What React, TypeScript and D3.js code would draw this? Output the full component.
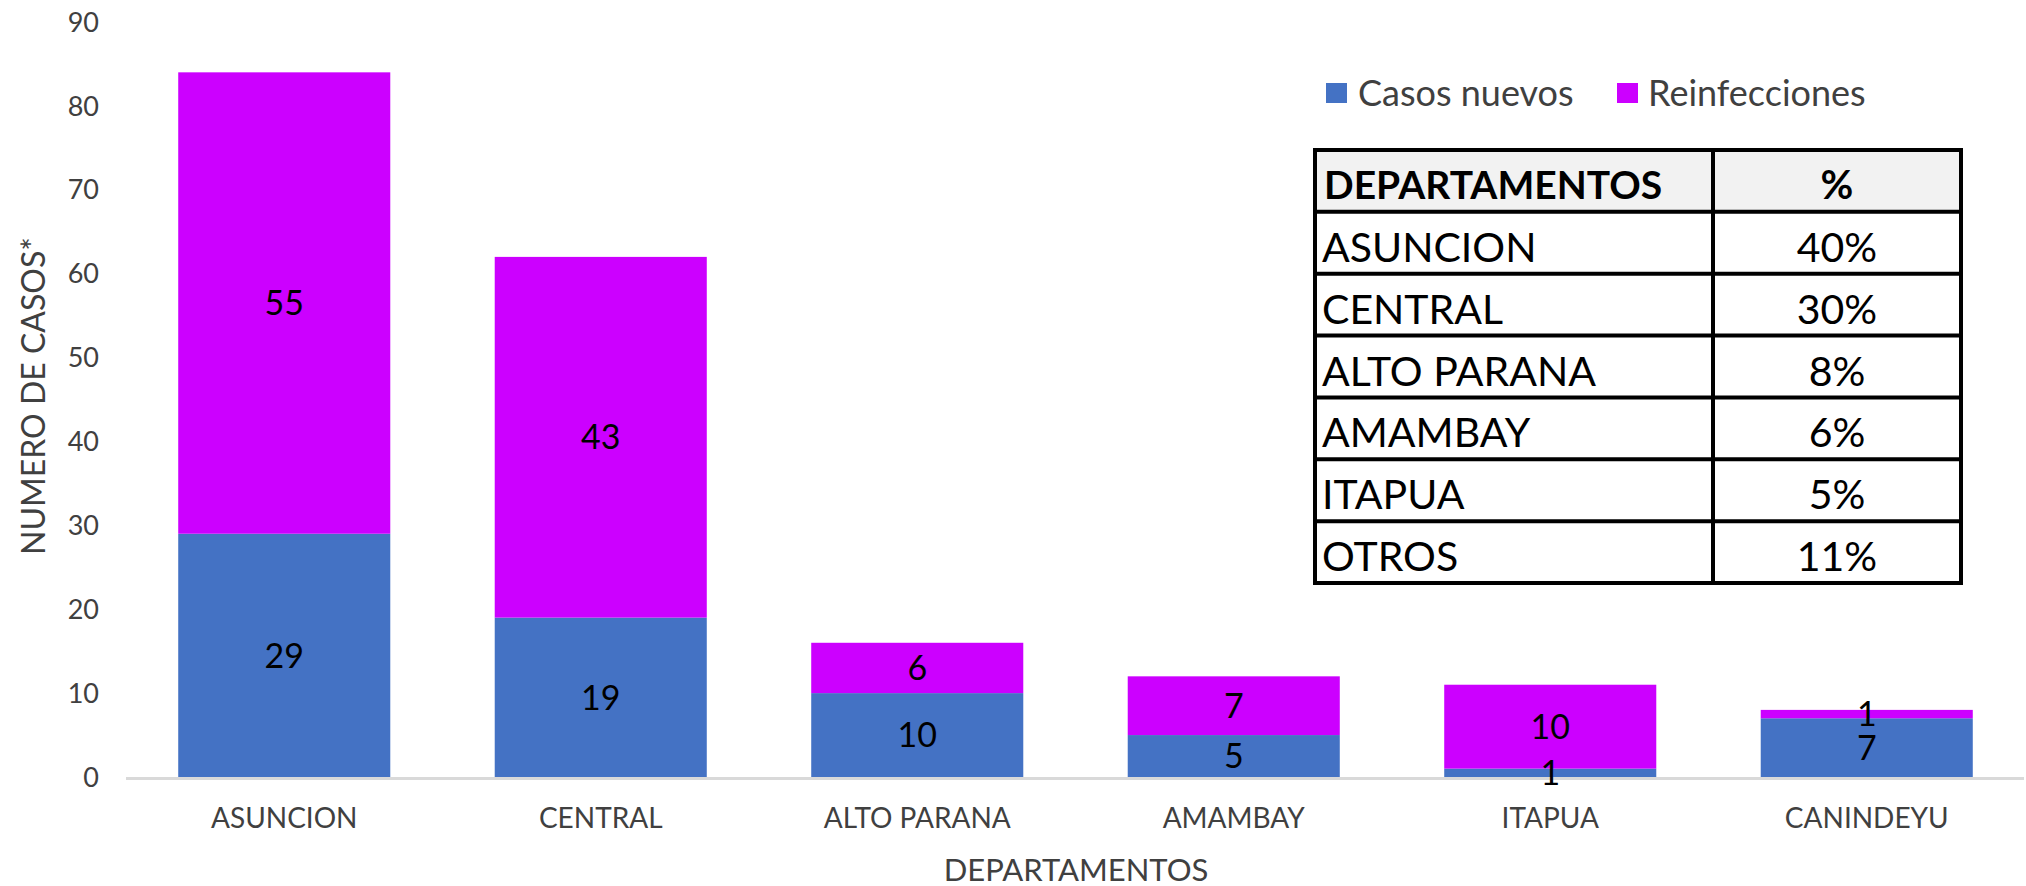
import React from "react";
import * as d3 from "d3";

const categories = ["ASUNCION", "CENTRAL", "ALTO PARANA", "AMAMBAY", "ITAPUA", "CANINDEYU"];
const casosNuevos = [29, 19, 10, 5, 1, 7];
const reinfecciones = [55, 43, 6, 7, 10, 1];
const seriesNames = ["Casos nuevos", "Reinfecciones"];
const seriesColors = ["#4472C4", "#CC00FF"];
const yTicks = [0, 10, 20, 30, 40, 50, 60, 70, 80, 90];
const tableHeader = ["DEPARTAMENTOS", "%"];
const tableDepartamentos = ["ASUNCION", "CENTRAL", "ALTO PARANA", "AMAMBAY", "ITAPUA", "OTROS"];
const tablePercents = ["40%", "30%", "8%", "6%", "5%", "11%"];

const W = 2026;
const H = 886;
const FONT = "Lato, 'Open Sans', sans-serif";

export default function App() {
  const x = d3.scaleBand<string>().domain(categories).range([126, 2025]).paddingInner(0.33).paddingOuter(0.165);
  const y = d3.scaleLinear().domain([0, 90]).range([777, 22]);

  const rows = categories.map((c, i) => ({ cat: c, s0: casosNuevos[i], s1: reinfecciones[i] }));
  const stack = d3.stack<any>().keys(["s0", "s1"]);
  const layers = stack(rows);

  // table geometry
  const tLeft = 1315, tRight = 1961, tTop = 150, tBottom = 583, tDiv = 1713;
  const nRows = tableDepartamentos.length + 1;
  const ty = d3.scaleLinear().domain([0, nRows]).range([tTop, tBottom]);
  const rowH = (tBottom - tTop) / nRows;

  return (
    <svg width={W} height={H} style={{ position: "absolute", left: 0, top: 0, background: "#fff" }} fontFamily={FONT}>
      <rect x={0} y={0} width={W} height={H} fill="#fff" />
      {/* y tick labels */}
      {yTicks.map((t) => (
        <text key={t} x={99} y={y(t)} dy="0.36em" textAnchor="end" fontSize={27} fill="#404040">
          {t}
        </text>
      ))}
      {/* bars */}
      {layers.map((layer, li) =>
        layer.map((d, i) => (
          <rect
            key={li + "-" + i}
            x={x(categories[i])}
            y={y(d[1])}
            width={x.bandwidth()}
            height={y(d[0]) - y(d[1])}
            fill={seriesColors[li]}
          />
        ))
      )}
      {/* axis line */}
      <line x1={126} x2={2024} y1={778.5} y2={778.5} stroke="#d9d9d9" strokeWidth={3} />
      {/* data labels */}
      {layers.map((layer, li) =>
        layer.map((d, i) => (
          <text
            key={"l" + li + "-" + i}
            x={(x(categories[i]) as number) + x.bandwidth() / 2}
            y={y((d[0] + d[1]) / 2)}
            dy="0.36em"
            textAnchor="middle"
            fontSize={34}
            fill="#000"
          >
            {d[1] - d[0]}
          </text>
        ))
      )}
      {/* category labels */}
      {categories.map((c) => (
        <text key={c} x={(x(c) as number) + x.bandwidth() / 2} y={828} textAnchor="middle" fontSize={28} fill="#404040">
          {c}
        </text>
      ))}
      {/* axis titles */}
      <text x={1076} y={881} textAnchor="middle" fontSize={31} fill="#404040">
        DEPARTAMENTOS
      </text>
      <text transform={`translate(45,396) rotate(-90)`} textAnchor="middle" fontSize={32} fill="#404040">
        NUMERO DE CASOS*
      </text>
      {/* legend */}
      <rect x={1326} y={83} width={21} height={20} fill={seriesColors[0]} />
      <text x={1358} y={93} dy="0.36em" fontSize={36} fill="#404040">
        {seriesNames[0]}
      </text>
      <rect x={1617} y={83} width={21} height={20} fill={seriesColors[1]} />
      <text x={1648} y={93} dy="0.36em" fontSize={36} fill="#404040">
        {seriesNames[1]}
      </text>
      {/* table */}
      <rect x={tLeft} y={ty(0)} width={tRight - tLeft} height={rowH} fill="#f2f2f2" />
      <text x={1324} y={ty(0) + 49} fontSize={39} fontWeight="bold" fill="#000">
        {tableHeader[0]}
      </text>
      <text x={(tDiv + tRight) / 2} y={ty(0) + 49} textAnchor="middle" fontSize={40} fontWeight="bold" fill="#000">
        {tableHeader[1]}
      </text>
      {tableDepartamentos.map((dname, i) => (
        <g key={dname}>
          <text x={1322} y={ty(i + 1) + 50} fontSize={41} fill="#000">
            {dname}
          </text>
          <text x={(tDiv + tRight) / 2} y={ty(i + 1) + 50} textAnchor="middle" fontSize={41} fill="#000">
            {tablePercents[i]}
          </text>
        </g>
      ))}
      {d3.range(nRows + 1).map((k) => (
        <line key={"h" + k} x1={tLeft - 2} x2={tRight + 2} y1={ty(k)} y2={ty(k)} stroke="#000" strokeWidth={4} />
      ))}
      <line x1={tLeft} x2={tLeft} y1={tTop} y2={tBottom} stroke="#000" strokeWidth={4} />
      <line x1={tDiv} x2={tDiv} y1={tTop} y2={tBottom} stroke="#000" strokeWidth={4} />
      <line x1={tRight} x2={tRight} y1={tTop} y2={tBottom} stroke="#000" strokeWidth={4} />
    </svg>
  );
}
